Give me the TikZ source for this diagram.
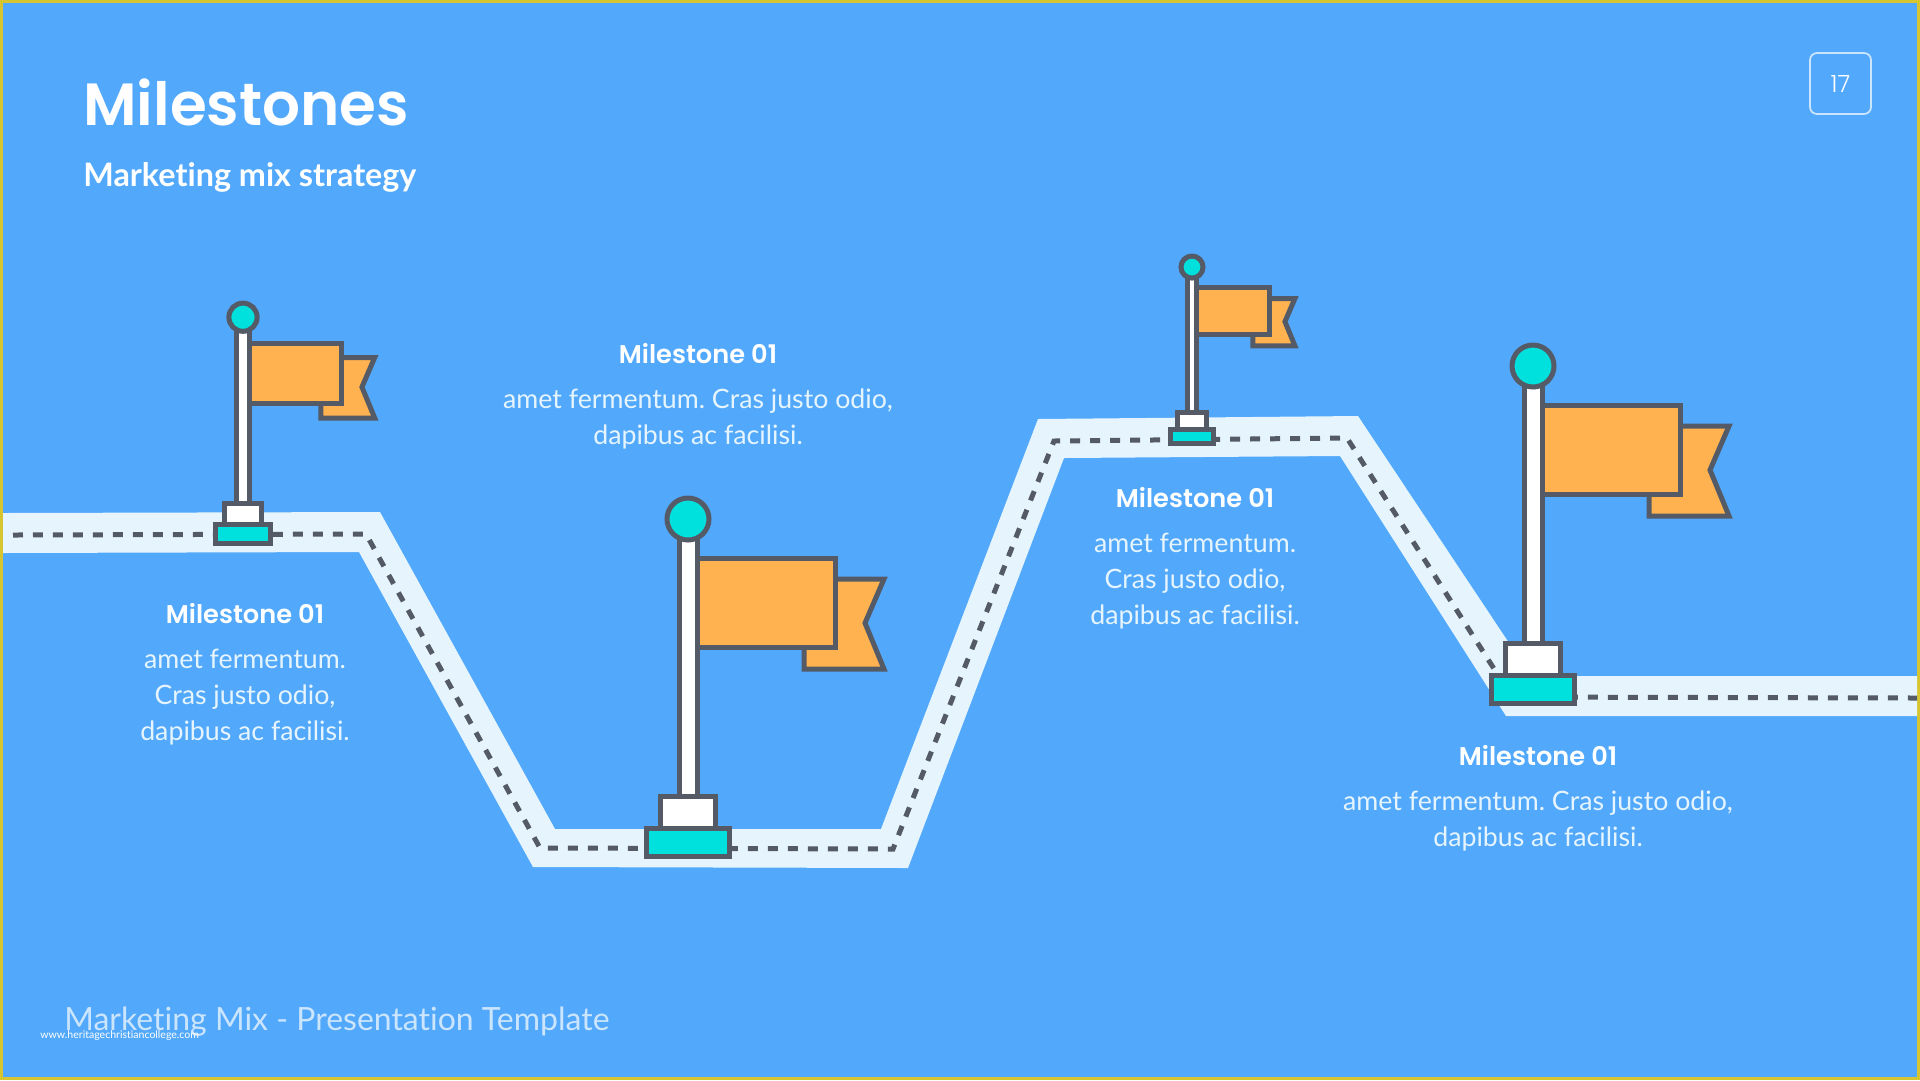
\documentclass[tikz,border=0pt]{standalone}
\usepackage{fontspec}
\setmainfont{Lato}[Ligatures=CommonOff]
\newfontfamily\headfont{Poppins SemiBold}
\newfontfamily\pagefont{Poppins Light}
\usepackage{tikz}
\usetikzlibrary{positioning}

\definecolor{skyblue}{HTML}{52A8FB}
\definecolor{roadlight}{HTML}{E6F5FD}
\definecolor{edgegrey}{HTML}{555B66}
\definecolor{flagorange}{HTML}{FFB24F}
\definecolor{capteal}{HTML}{00E0DC}
\definecolor{frameyellow}{HTML}{D6C52E}
\definecolor{paleblue}{HTML}{CBE5FD}

\newcommand{\milestoneflag}[3]{
    \begin{scope}[shift={(#1,#2)}, scale=#3]
        \draw[part, fill=flagorange] (116,-260) -- (116,-279) -- (196,-279) -- (177,-235) -- (196,-189) -- (116,-189) -- cycle;
        \draw[part, fill=flagorange] (9,-300) rectangle (147,-211);
        \draw[part, fill=white] (-9,-62) rectangle (9,-330);
        \draw[part, fill=capteal] (0,-339) circle (21);
        \draw[part, fill=white] (-27.5,-30) rectangle (27.5,-62);
        \draw[part, fill=capteal] (-41.2,-2) rectangle (41.2,-30);
    \end{scope}
}

\begin{document}
\begin{tikzpicture}[
        x=0.02cm, y=-0.02cm,
        part/.style={draw=edgegrey, line width=0.1cm, miter limit=10},
        road/.style={fill=roadlight},
        dashline/.style={draw=edgegrey, line width=0.1cm, dash pattern=on 0.2cm off 0.2cm},
        head/.style={font=\headfont\fontsize{14.6}{17}\selectfont, text=white, inner sep=0pt},
        body/.style={font=\frenchspacing\fontsize{15.2}{20.5}\selectfont, text=roadlight, align=center, inner sep=0pt},
        pagebox/.style={draw=paleblue, line width=0.035cm, rounded corners=0.14cm, text=white, minimum width=1.22cm, minimum height=1.22cm, inner sep=0pt, font=\pagefont\fontsize{13.5}{16}\selectfont}
    ]
    \useasboundingbox (0,0) rectangle (1920,1080);
    \fill[frameyellow] (0,0) rectangle (1920,1080);
    \fill[skyblue] (3,3) rectangle (1917,1077);

    \fill[road] (3,513) -- (380,512) -- (555,829) -- (881,829) -- (1038,419) -- (1358,416) -- (1531,676) -- (1917,676) -- (1917,716) -- (1506,716) -- (1340,456) -- (1064,458) -- (908,868) -- (533,867) -- (359,552) -- (3,553) -- cycle;
    \draw[dashline] (13,535) -- (366,534) -- (540,848) -- (893,849) -- (1054,441) -- (1347,438) -- (1512,697) -- (1917,698);

    \foreach \x/\y/\s in {243/545/0.672, 688/858/1, 1192/445/0.525, 1533/705/1} {
        \milestoneflag{\x}{\y}{\s}
    }

    \node[anchor=base west, inner sep=0pt, text=white, font=\headfont\fontsize{33.9}{38}\selectfont] (title) at (83,125) {Milestones};
    \node[anchor=base west, inner sep=0pt, text=white, font=\bfseries\fontsize{18.4}{22}\selectfont] (subtitle) at (83,186) {Marketing mix strategy};
    \node[pagebox] (page) at (1840.5,83.5) {17};

    \node[head] (head1) at (245,614) {Milestone 01};
    \node[body, below=0.48cm of head1] (body1) {amet fermentum.\\Cras justo odio,\\dapibus ac facilisi.};

    \node[head] (head2) at (698,354) {Milestone 01};
    \node[body, below=0.48cm of head2] (body2) {amet fermentum. Cras justo odio,\\dapibus ac facilisi.};

    \node[head] (head3) at (1195,498) {Milestone 01};
    \node[body, below=0.48cm of head3] (body3) {amet fermentum.\\Cras justo odio,\\dapibus ac facilisi.};

    \node[head] (head4) at (1538,756) {Milestone 01};
    \node[body, below=0.48cm of head4] (body4) {amet fermentum. Cras justo odio,\\dapibus ac facilisi.};

    \node[anchor=base west, inner sep=0pt, text=paleblue, font=\fontsize{18.2}{22}\selectfont] (footer) at (64,1030) {Marketing Mix - Presentation Template};
    \node[anchor=base west, inner sep=0pt, text=white, font=\fontsize{6}{7}\selectfont] (weblink) at (40,1038) {www.heritagechristiancollege.com};
\end{tikzpicture}
\end{document}
